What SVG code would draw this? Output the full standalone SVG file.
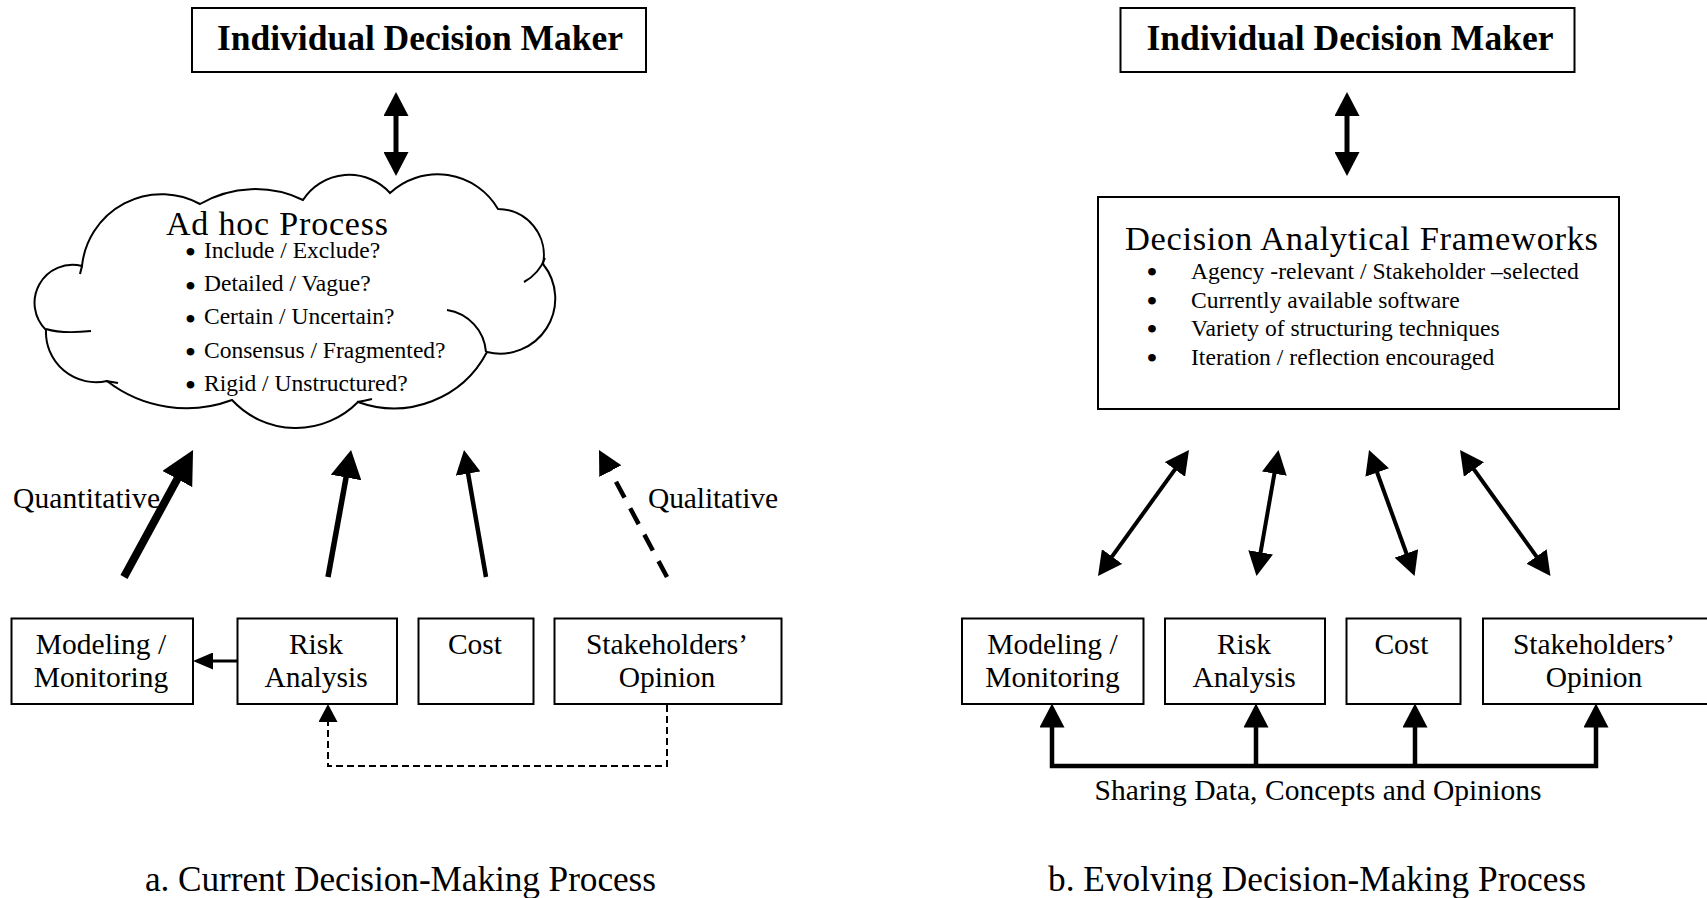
<svg xmlns="http://www.w3.org/2000/svg" width="1707" height="898" viewBox="0 0 1707 898">
<style>
  .box{fill:#fff;stroke:#000;stroke-width:2}
  .t{font-family:"Liberation Serif","Times New Roman",serif;fill:#000}
  .title{font-size:35.5px;font-weight:bold}
  .big{font-size:34px}
  .lbl{font-size:29.5px}
  .item{font-size:23.5px}
  .bul{font-size:24px;stroke:#000;stroke-width:2}
  .cap{font-size:35.3px}
  .ln{fill:none;stroke:#000}
  .cloud{fill:#fff;stroke:#000;stroke-width:2}
  .tail{fill:none;stroke:#000;stroke-width:2}
</style>
<defs>
  <marker id="mQ" markerUnits="userSpaceOnUse" markerWidth="33" markerHeight="34" refX="13" refY="17" orient="auto"><path d="M0,0 L33,17 L0,34 Z" fill="#000"/></marker>
  <marker id="mR" markerUnits="userSpaceOnUse" markerWidth="28" markerHeight="31" refX="12" refY="15.5" orient="auto"><path d="M0,0 L28,15.5 L0,31 Z" fill="#000"/></marker>
  <marker id="mHead" markerUnits="userSpaceOnUse" markerWidth="24" markerHeight="25" refX="10" refY="12.5" orient="auto-start-reverse"><path d="M0,0 L24,12.5 L0,25 Z" fill="#000"/></marker>
  <marker id="mSmall" markerUnits="userSpaceOnUse" markerWidth="20" markerHeight="17" refX="8" refY="8.5" orient="auto"><path d="M0,0 L20,8.5 L0,17 Z" fill="#000"/></marker>
  <marker id="mDash" markerUnits="userSpaceOnUse" markerWidth="18" markerHeight="19" refX="8" refY="9.5" orient="auto"><path d="M0,0 L18,9.5 L0,19 Z" fill="#000"/></marker>
</defs>
<rect x="0" y="0" width="1707" height="898" fill="#fff"/>

<!-- LEFT PANEL -->
<g id="left-decision-maker">
  <rect class="box" x="192" y="8" width="454" height="64"/>
  <text class="t title" x="217" y="50" textLength="406" lengthAdjust="spacing">Individual Decision Maker</text>
</g>

<g id="adhoc-process">
  <path class="cloud" d="M82,266 A80,80 0 0 1 200,204 A110,110 0 0 1 303,200 A55,55 0 0 1 390,193 A70,70 0 0 1 498,209 A46,46 0 0 1 543,264 A55,55 0 0 1 487,352 A105,105 0 0 1 358,402 A87,87 0 0 1 232,400 A130,130 0 0 1 107,381 A50,50 0 0 1 46,330 A38,38 0 0 1 82,266 Z"/>
  <path class="tail" d="M447,310 A46,46 0 0 1 486,352"/>
  <path class="tail" d="M545,258 A46,46 0 0 1 524,282"/>
  <path class="tail" d="M46,329 Q62,334 91,331"/>
  <path class="tail" d="M106,381 Q112,382 118,383"/>
  <path class="tail" d="M357,402 Q364,401 372,399"/>
  <path class="tail" d="M82,266 Q81,270 80,274"/>
  <text class="t big" x="166" y="235" textLength="222" lengthAdjust="spacing">Ad hoc Process</text>
  <text class="t bul" x="190.5" y="260" text-anchor="middle">•</text>
  <text class="t item" x="204" y="257.5">Include / Exclude?</text>
  <text class="t bul" x="190.5" y="293.5" text-anchor="middle">•</text>
  <text class="t item" x="204" y="291">Detailed / Vague?</text>
  <text class="t bul" x="190.5" y="326.5" text-anchor="middle">•</text>
  <text class="t item" x="204" y="324">Certain / Uncertain?</text>
  <text class="t bul" x="190.5" y="360" text-anchor="middle">•</text>
  <text class="t item" x="204" y="357.5">Consensus / Fragmented?</text>
  <text class="t bul" x="190.5" y="393" text-anchor="middle">•</text>
  <text class="t item" x="204" y="390.5">Rigid / Unstructured?</text>
</g>

<g id="left-modeling">
  <rect class="box" x="11.5" y="618.5" width="181.5" height="85.5"/>
  <text class="t lbl" x="101" y="654" text-anchor="middle">Modeling /</text>
  <text class="t lbl" x="101" y="687" text-anchor="middle">Monitoring</text>
</g>
<g id="left-risk">
  <rect class="box" x="237.5" y="618.5" width="159.5" height="85.5"/>
  <text class="t lbl" x="316" y="654" text-anchor="middle">Risk</text>
  <text class="t lbl" x="316" y="687" text-anchor="middle">Analysis</text>
</g>
<g id="left-cost">
  <rect class="box" x="418.5" y="618.5" width="115" height="85.5"/>
  <text class="t lbl" x="475" y="654" text-anchor="middle">Cost</text>
</g>
<g id="left-stakeholders">
  <rect class="box" x="554.5" y="618.5" width="227" height="85.5"/>
  <text class="t lbl" x="667" y="654" text-anchor="middle">Stakeholders’</text>
  <text class="t lbl" x="667" y="687" text-anchor="middle">Opinion</text>
</g>

<g id="left-labels">
  <text class="t lbl" x="13" y="508" textLength="147" lengthAdjust="spacing">Quantitative</text>
  <text class="t lbl" x="648" y="508" textLength="130" lengthAdjust="spacing">Qualitative</text>
  <text class="t cap" x="145" y="891" textLength="511" lengthAdjust="spacing">a. Current Decision-Making Process</text>
</g>

<!-- RIGHT PANEL -->
<g id="right-decision-maker">
  <rect class="box" x="1120.5" y="8" width="454" height="64"/>
  <text class="t title" x="1146.5" y="50" textLength="407" lengthAdjust="spacing">Individual Decision Maker</text>
</g>

<g id="decision-frameworks">
  <rect class="box" x="1098" y="197" width="521" height="212"/>
  <text class="t big" x="1125" y="250" textLength="473" lengthAdjust="spacing" style="font-size:34.5px">Decision Analytical Frameworks</text>
  <text class="t bul" x="1152" y="279.5" text-anchor="middle">•</text>
  <text class="t item" x="1191" y="278.5" style="font-size:23.6px">Agency -relevant / Stakeholder –selected</text>
  <text class="t bul" x="1152" y="309" text-anchor="middle">•</text>
  <text class="t item" x="1191" y="308" style="font-size:23.6px">Currently available software</text>
  <text class="t bul" x="1152" y="337" text-anchor="middle">•</text>
  <text class="t item" x="1191" y="336" style="font-size:23.6px">Variety of structuring techniques</text>
  <text class="t bul" x="1152" y="365.5" text-anchor="middle">•</text>
  <text class="t item" x="1191" y="364.5" style="font-size:23.6px">Iteration / reflection encouraged</text>
</g>

<g id="right-modeling">
  <rect class="box" x="962" y="618.5" width="181.5" height="85.5"/>
  <text class="t lbl" x="1052.5" y="654" text-anchor="middle">Modeling /</text>
  <text class="t lbl" x="1052.5" y="687" text-anchor="middle">Monitoring</text>
</g>
<g id="right-risk">
  <rect class="box" x="1165" y="618.5" width="160" height="85.5"/>
  <text class="t lbl" x="1244" y="654" text-anchor="middle">Risk</text>
  <text class="t lbl" x="1244" y="687" text-anchor="middle">Analysis</text>
</g>
<g id="right-cost">
  <rect class="box" x="1346.5" y="618.5" width="114" height="85.5"/>
  <text class="t lbl" x="1401.5" y="654" text-anchor="middle">Cost</text>
</g>
<g id="right-stakeholders">
  <rect class="box" x="1483" y="618.5" width="227" height="85.5"/>
  <text class="t lbl" x="1594" y="654" text-anchor="middle">Stakeholders’</text>
  <text class="t lbl" x="1594" y="687" text-anchor="middle">Opinion</text>
</g>

<g id="right-labels">
  <text class="t lbl" x="1094.5" y="800" textLength="447" lengthAdjust="spacing">Sharing Data, Concepts and Opinions</text>
  <text class="t cap" x="1048" y="891" textLength="538" lengthAdjust="spacing">b. Evolving Decision-Making Process</text>
</g>

<!-- CONNECTORS -->
<g id="connectors">
  <line class="ln" x1="396" y1="162" x2="396" y2="106" stroke-width="5" marker-start="url(#mHead)" marker-end="url(#mHead)"/>
  <line class="ln" x1="124" y1="577" x2="183.5" y2="467.6" stroke-width="8" marker-end="url(#mQ)"/>
  <line class="ln" x1="328" y1="577" x2="348.2" y2="465.7" stroke-width="5.5" marker-end="url(#mR)"/>
  <line class="ln" x1="486" y1="577" x2="466.4" y2="463.8" stroke-width="4.5" marker-end="url(#mHead)"/>
  <line class="ln" x1="667" y1="577" x2="605.6" y2="462.3" stroke-width="4.5" stroke-dasharray="18 12" marker-end="url(#mHead)"/>
  <line class="ln" x1="237" y1="661" x2="205" y2="661" stroke-width="3" marker-end="url(#mSmall)"/>
  <path class="ln" d="M667,705 V766 H328 V714" stroke-width="2" stroke-dasharray="7 4" marker-end="url(#mDash)"/>

  <line class="ln" x1="1347" y1="162" x2="1347" y2="106" stroke-width="5" marker-start="url(#mHead)" marker-end="url(#mHead)"/>
  <line class="ln" x1="1106.2" y1="564.6" x2="1180.8" y2="461.4" stroke-width="4" marker-start="url(#mHead)" marker-end="url(#mHead)"/>
  <line class="ln" x1="1258.9" y1="562.2" x2="1276.1" y2="463.8" stroke-width="4" marker-start="url(#mHead)" marker-end="url(#mHead)"/>
  <line class="ln" x1="1409.8" y1="562.8" x2="1373.8" y2="463.2" stroke-width="4" marker-start="url(#mHead)" marker-end="url(#mHead)"/>
  <line class="ln" x1="1542.3" y1="564.6" x2="1468.2" y2="461.4" stroke-width="4" marker-start="url(#mHead)" marker-end="url(#mHead)"/>
  <path class="ln" d="M1052,717.5 V766 H1596 V717.5" stroke-width="4.5" stroke-linejoin="miter" marker-start="url(#mHead)" marker-end="url(#mHead)"/>
  <line class="ln" x1="1256" y1="766" x2="1256" y2="717.5" stroke-width="4.5" marker-end="url(#mHead)"/>
  <line class="ln" x1="1415" y1="766" x2="1415" y2="717.5" stroke-width="4.5" marker-end="url(#mHead)"/>
</g>
</svg>
